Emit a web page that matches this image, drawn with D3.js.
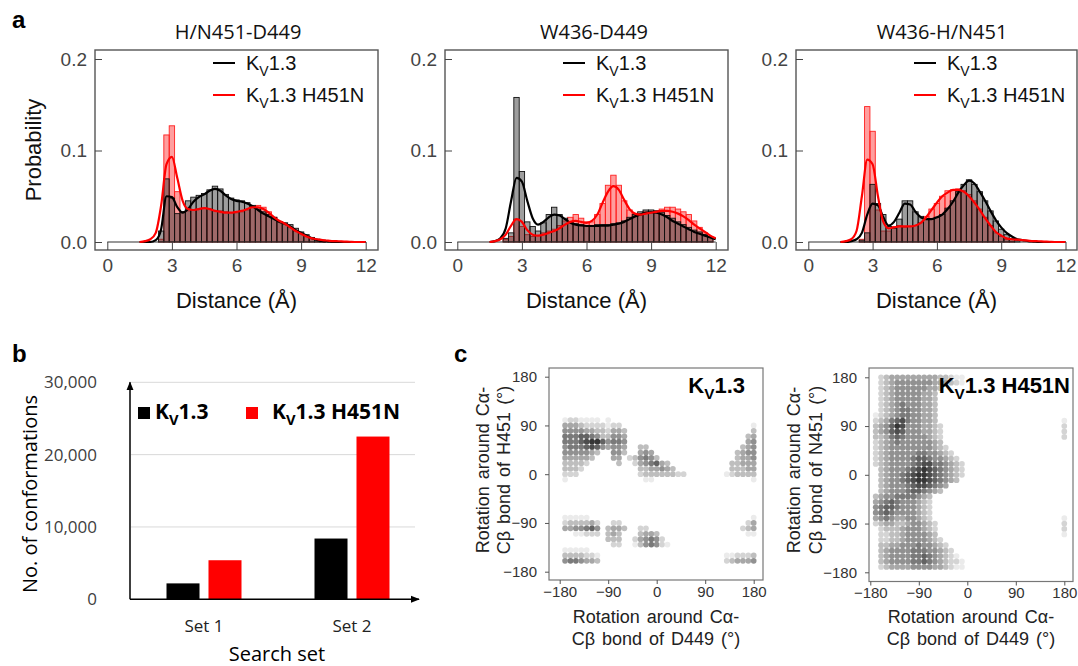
<!DOCTYPE html>
<html lang="en">
<head>
<meta charset="UTF-8">
<title>Kv1.3 H451N distances and rotamers</title>
<style>
body { margin: 0; background: #fff; }
svg { display: block; font-family: "Liberation Sans", Arial, sans-serif; }
.title { font-family: "Open Sans", sans-serif; font-size: 20px; fill: #111; }
.axlab { font-size: 22px; fill: #111; }
.tickA text { font-size: 19px; fill: #444; font-family: "Liberation Sans", Arial, sans-serif; }
.tickA line { stroke: #444; }
.tickC text { font-size: 15px; fill: #333; font-family: "Liberation Sans Narrow", "Liberation Sans", Arial, sans-serif; font-stretch: condensed; }
.tickC line { stroke: #555; }
.tickB text { font-size: 17px; fill: #404040; font-family: "Open Sans", sans-serif; }
.cal { font-family: "Open Sans", sans-serif; }
.panel { font-size: 24px; font-weight: bold; }
</style>
</head>
<body>
<svg id="fig" width="1078" height="666"></svg>
<script src="https://cdnjs.cloudflare.com/ajax/libs/d3/7.8.5/d3.min.js"></script>
<script>

// ---------- panel a : distance histograms ----------
var pairTitles = ["H/N451-D449", "W436-D449", "W436-H/N451"];
var distTicks = [0, 3, 6, 9, 12];
var probTicks = [0, 0.1, 0.2];
var binWidth = 0.25;

var binCenters = [2.25, 2.5, 2.75, 3, 3.25, 3.5, 3.75, 4, 4.25, 4.5,
                  4.75, 5, 5.25, 5.5, 5.75, 6, 6.25, 6.5, 6.75, 7,
                  7.25, 7.5, 7.75, 8, 8.25, 8.5, 8.75, 9, 9.25, 9.5,
                  9.75, 10, 10.25, 10.5, 10.75, 11, 11.25, 11.5, 11.75];

var histWt1  = [0, 0.012, 0.069, 0.048, 0.031, 0.033, 0.045, 0.049, 0.051, 0.053,
                0.057, 0.061, 0.058, 0.052, 0.048, 0.046, 0.045, 0.043, 0.040, 0.036,
                0.033, 0.030, 0.027, 0.022, 0.021, 0.019, 0.015, 0.011, 0.008, 0.005,
                0.003, 0.002, 0, 0, 0, 0, 0, 0, 0];
var histMut1 = [0, 0.003, 0.117, 0.127, 0.055, 0.033, 0.034, 0.035, 0.036, 0.037,
                0.036, 0.034, 0.034, 0.033, 0.032, 0.032, 0.033, 0.035, 0.039, 0.040,
                0.038, 0.033, 0.027, 0.022, 0.019, 0.016, 0.012, 0.009, 0.006, 0.004,
                0.003, 0.002, 0, 0, 0, 0, 0, 0, 0];
var histWt2  = [0.004, 0.010, 0.158, 0.077, 0.022, 0.017, 0.012, 0.021, 0.030, 0.038,
                0.030, 0.026, 0.022, 0.020, 0.019, 0.018, 0.018, 0.019, 0.019, 0.019,
                0.020, 0.021, 0.023, 0.027, 0.030, 0.033, 0.035, 0.035, 0.034, 0.032,
                0.029, 0.026, 0.022, 0.019, 0.016, 0.013, 0.011, 0.008, 0.005];
var histMut2 = [0.003, 0.006, 0.025, 0.017, 0.008, 0.006, 0.007, 0.010, 0.012, 0.014,
                0.018, 0.023, 0.027, 0.030, 0.026, 0.022, 0.022, 0.030, 0.042, 0.062,
                0.073, 0.062, 0.045, 0.035, 0.031, 0.031, 0.033, 0.033, 0.034, 0.036,
                0.038, 0.038, 0.036, 0.033, 0.030, 0.023, 0.016, 0.010, 0.006];
var histWt3  = [0, 0.002, 0.010, 0.063, 0.042, 0.030, 0.017, 0.015, 0.025, 0.045,
                0.045, 0.033, 0.028, 0.025, 0.025, 0.027, 0.030, 0.037, 0.045, 0.055,
                0.063, 0.068, 0.063, 0.055, 0.045, 0.034, 0.023, 0.014, 0.008, 0.004,
                0.002, 0, 0, 0, 0, 0, 0, 0, 0];
var histMut3 = [0, 0.003, 0.148, 0.121, 0.035, 0.012, 0.012, 0.017, 0.018, 0.016,
                0.017, 0.018, 0.021, 0.028, 0.036, 0.042, 0.050, 0.056, 0.057, 0.058,
                0.056, 0.052, 0.045, 0.036, 0.027, 0.018, 0.010, 0.006, 0.003, 0.001,
                0, 0, 0, 0, 0, 0, 0, 0, 0];

var curveX = [1.5, 1.75, 2, 2.25, 2.5, 2.75, 3, 3.25, 3.5, 3.75,
              4, 4.25, 4.5, 4.75, 5, 5.25, 5.5, 5.75, 6, 6.25,
              6.5, 6.75, 7, 7.25, 7.5, 7.75, 8, 8.25, 8.5, 8.75,
              9, 9.25, 9.5, 9.75, 10, 10.25, 10.5, 10.75, 11, 11.25,
              11.5, 11.75, 12];

var kdeWt1  = [0, 0, 0, 0.002, 0.014, 0.050, 0.049, 0.038, 0.032, 0.036,
               0.044, 0.049, 0.052, 0.056, 0.058, 0.056, 0.051, 0.047, 0.045, 0.044,
               0.042, 0.039, 0.035, 0.031, 0.028, 0.025, 0.022, 0.020, 0.017, 0.013,
               0.010, 0.007, 0.004, 0.002, 0.001, 0.0005, 0, 0, 0, 0,
               0, 0, 0];
var kdeMut1 = [0, 0.001, 0.003, 0.010, 0.040, 0.085, 0.093, 0.070, 0.045, 0.036,
               0.035, 0.036, 0.037, 0.036, 0.034, 0.033, 0.032, 0.032, 0.033, 0.034,
               0.036, 0.038, 0.038, 0.036, 0.032, 0.027, 0.023, 0.020, 0.016, 0.012,
               0.009, 0.006, 0.004, 0.003, 0.002, 0.0015, 0.001, 0.0008, 0.0005, 0.0003,
               0, 0, 0];
var kdeWt2  = [0, 0.001, 0.004, 0.015, 0.045, 0.070, 0.066, 0.045, 0.026, 0.019,
               0.022, 0.027, 0.030, 0.029, 0.025, 0.021, 0.019, 0.018, 0.0175, 0.0175,
               0.0175, 0.018, 0.018, 0.019, 0.020, 0.022, 0.025, 0.028, 0.030, 0.032,
               0.0325, 0.032, 0.030, 0.027, 0.023, 0.020, 0.017, 0.014, 0.011, 0.009,
               0.007, 0.005, 0.003];
var kdeMut2 = [0, 0.001, 0.003, 0.008, 0.018, 0.025, 0.022, 0.013, 0.008, 0.007,
               0.008, 0.010, 0.012, 0.015, 0.019, 0.022, 0.023, 0.022, 0.021, 0.023,
               0.030, 0.043, 0.055, 0.061, 0.057, 0.046, 0.036, 0.031, 0.030, 0.031,
               0.032, 0.033, 0.034, 0.034, 0.033, 0.031, 0.028, 0.024, 0.019, 0.015,
               0.011, 0.007, 0.004];
var kdeWt3  = [0, 0, 0.001, 0.003, 0.010, 0.030, 0.042, 0.040, 0.027, 0.018,
               0.022, 0.032, 0.042, 0.041, 0.033, 0.027, 0.025, 0.025, 0.027, 0.030,
               0.036, 0.044, 0.054, 0.062, 0.067, 0.064, 0.055, 0.045, 0.034, 0.024,
               0.016, 0.010, 0.006, 0.003, 0.002, 0.001, 0.0005, 0, 0, 0,
               0, 0, 0];
var kdeMut3 = [0, 0.001, 0.003, 0.012, 0.050, 0.090, 0.085, 0.050, 0.022, 0.015,
               0.016, 0.017, 0.017, 0.017, 0.018, 0.021, 0.027, 0.035, 0.043, 0.050,
               0.054, 0.057, 0.057, 0.055, 0.050, 0.043, 0.035, 0.026, 0.018, 0.011,
               0.007, 0.004, 0.003, 0.0025, 0.002, 0.0015, 0.001, 0.0008, 0.0005, 0.0003,
               0, 0, 0];

// ---------- panel b : conformations ----------
var searchSets = ["Set 1", "Set 2"];
var confWt  = [2200, 8400];
var confMut = [5400, 22500];
var confTicks = [0, 10000, 20000, 30000];

// ---------- panel c : rotamer maps (levels 1-9, "." = none) ----------
var angleTicks = [-180, -90, 0, 90, 180];
var rotSteps = [-170, -160, -150, -140, -130, -120, -110, -100, -90, -80, -70, -60,
                -50, -40, -30, -20, -10, 0, 10, 20, 30, 40, 50, 60,
                70, 80, 90, 100, 110, 120, 130, 140, 150, 160, 170, 180];
// rows from +180 (top) down to -170
var rotRows = [180, 170, 160, 150, 140, 130, 120, 110, 100, 90, 80, 70,
               60, 50, 40, 30, 20, 10, 0, -10, -20, -30, -40, -50,
               -60, -70, -80, -90, -100, -110, -120, -130, -140, -150, -160, -170];

var densityWt = [
  "....................................",
  "....................................",
  "....................................",
  "....................................",
  "....................................",
  "....................................",
  "....................................",
  "....................................",
  "1221111.1...........................",
  "44432222122........................1",
  "555544332443.......................3",
  "666776533554......................34",
  "666789975665......................45",
  "566678754554..33.................345",
  "5555543..553..454...............3455",
  "444443...44.235653..............3445",
  "33332.....3..2456743...........33444",
  "3332..........3344543..........33344",
  "222...........233333322.......123333",
  "1..............11..................1",
  "....................................",
  "....................................",
  "....................................",
  "....................................",
  "....................................",
  "....................................",
  "11111..............................1",
  "2333342..22.......................24",
  "4455675.3443..22.................234",
  "..11222.343...3443................11",
  "........333..245652.................",
  ".........22..1356521................",
  "11111...............................",
  "3333221.......................112223",
  "5665443.......................234445",
  "...................................."
];

var densityMut = [
  ".2344444444433211...................",
  ".2345555555444321...................",
  ".234555555443.......................",
  ".23455555443........................",
  ".23455555443........................",
  ".23456555443........................",
  ".23456655443........................",
  "123456655443........................",
  "234678655443.......................1",
  "3457985554432......................2",
  "3457875554432......................2",
  "3346765555432......................2",
  "2345655555543.......................",
  "23455555555432......................",
  "234555556655432.....................",
  "2345555677655432....................",
  "23455556788665432...................",
  ".3455567898765432...................",
  ".3455678998765432...................",
  ".345567899876543....................",
  ".3455567887654......................",
  ".345556776543.......................",
  "34556666543.........................",
  "45676555432.........................",
  "56776555432.........................",
  "56765555432.........................",
  "45654455432........................1",
  "234433455432.......................2",
  ".23334555432.......................2",
  ".22334555543.......................1",
  ".223345555432.......................",
  ".3344555655432......................",
  ".34555566655432.....................",
  ".345555667654321....................",
  ".3455556676543221...................",
  ".2344445555443211..................."
];

var svg = d3.select("#fig");

function kvLabel(sel, rest, size) {
  sel.append("tspan").text("K");
  sel.append("tspan").attr("font-size", size * 0.7).attr("dy", size * 0.28).text("V");
  sel.append("tspan").attr("dy", -size * 0.28).text("1.3" + rest);
}

// ================= panel a =================
var histPanels = [
  { left: 95,  right: 378,  x0: 107.3, x12: 365.7, titleX: 238, wt: histWt1, mut: histMut1, kWt: kdeWt1, kMut: kdeMut1 },
  { left: 445, right: 728,  x0: 457.3, x12: 715.7, titleX: 594, wt: histWt2, mut: histMut2, kWt: kdeWt2, kMut: kdeMut2 },
  { left: 796, right: 1077, x0: 808.3, x12: 1065.5, titleX: 942, wt: histWt3, mut: histMut3, kWt: kdeWt3, kMut: kdeMut3 }
];

histPanels.forEach(function(p, i) {
  var x = d3.scaleLinear().domain([0, 12]).range([p.x0, p.x12]);
  var y = d3.scaleLinear().domain([0, 0.2]).range([242, 59]);
  var g = svg.append("g");
  var bw = x(binWidth) - x(0);

  var mutBars = binCenters.map(function(c, k) { return { c: c, v: p.mut[k] }; }).filter(function(d) { return d.v > 0; });
  var wtBars = binCenters.map(function(c, k) { return { c: c, v: p.wt[k] }; }).filter(function(d) { return d.v > 0; });

  g.selectAll(".mutbar").data(mutBars).enter().append("rect")
    .attr("x", function(d) { return x(d.c - binWidth / 2); })
    .attr("width", bw)
    .attr("y", function(d) { return y(d.v); })
    .attr("height", function(d) { return y(0) - y(d.v); })
    .attr("fill", "rgba(255,0,0,0.38)")
    .attr("stroke", "#ff2020").attr("stroke-width", 0.9);

  g.selectAll(".wtbar").data(wtBars).enter().append("rect")
    .attr("x", function(d) { return x(d.c - binWidth / 2); })
    .attr("width", bw)
    .attr("y", function(d) { return y(d.v); })
    .attr("height", function(d) { return y(0) - y(d.v); })
    .attr("fill", "rgba(40,40,40,0.45)")
    .attr("stroke", "#111").attr("stroke-width", 0.9);

  // zero line spanning the distance range
  g.append("line").attr("x1", x(0)).attr("x2", x(12)).attr("y1", y(0)).attr("y2", y(0))
    .attr("stroke", "#333").attr("stroke-width", 1.2);

  var line = d3.line()
    .x(function(d) { return x(d[0]); })
    .y(function(d) { return y(d[1]); })
    .curve(d3.curveMonotoneX);

  g.append("path").datum(curveX.map(function(cx, k) { return [cx, p.kWt[k]]; }))
    .attr("d", line).attr("fill", "none").attr("stroke", "#000").attr("stroke-width", 2.2);
  g.append("path").datum(curveX.map(function(cx, k) { return [cx, p.kMut[k]]; }))
    .attr("d", line).attr("fill", "none").attr("stroke", "#ff0000").attr("stroke-width", 2.2);

  g.append("rect").attr("x", p.left).attr("y", 50).attr("width", p.right - p.left).attr("height", 200)
    .attr("fill", "none").attr("stroke", "#555").attr("stroke-width", 1.4);

  var xAxis = d3.axisBottom(x).tickValues(distTicks).tickSizeInner(-8).tickSizeOuter(0).tickPadding(9);
  g.append("g").attr("class", "tickA").attr("transform", "translate(0,250)").call(xAxis)
    .call(function(s) { s.select(".domain").remove(); });

  var yAxis = d3.axisLeft(y).tickValues(probTicks).tickSizeInner(-7).tickSizeOuter(0).tickPadding(8)
    .tickFormat(d3.format(".1f"));
  g.append("g").attr("class", "tickA").attr("transform", "translate(" + p.left + ",0)").call(yAxis)
    .call(function(s) { s.select(".domain").remove(); });

  g.append("text").attr("class", "title").attr("x", p.titleX).attr("y", 39)
    .attr("text-anchor", "middle").text(pairTitles[i]);

  g.append("text").attr("class", "axlab").attr("x", (p.left + p.right) / 2).attr("y", 308)
    .attr("text-anchor", "middle").text("Distance (Å)");

  // legend
  var lx = p.left + 118;
  g.append("line").attr("x1", lx).attr("x2", lx + 22).attr("y1", 63).attr("y2", 63)
    .attr("stroke", "#000").attr("stroke-width", 2);
  g.append("line").attr("x1", lx).attr("x2", lx + 22).attr("y1", 95).attr("y2", 95)
    .attr("stroke", "#ff0000").attr("stroke-width", 2);
  g.append("text").attr("x", lx + 33).attr("y", 70).attr("font-size", 20).attr("fill", "#111")
    .call(kvLabel, "", 20);
  g.append("text").attr("x", lx + 33).attr("y", 102).attr("font-size", 20).attr("fill", "#111")
    .call(kvLabel, " H451N", 20);
});

svg.append("text").attr("class", "axlab").attr("transform", "translate(41,150) rotate(-90)")
  .attr("text-anchor", "middle").text("Probability");

// ================= panel b =================
var bx = d3.scaleBand().domain(searchSets).range([130, 426]);
var bInner = d3.scaleBand().domain(["wt", "mut"]).range([bx.bandwidth() / 2 - 37.5, bx.bandwidth() / 2 + 37.5]).paddingInner(0.214);
var by = d3.scaleLinear().domain([0, 30000]).range([599.3, 382.3]);

var gb = svg.append("g");
gb.selectAll(".grid").data(confTicks.slice(1)).enter().append("line")
  .attr("x1", 131).attr("x2", 415)
  .attr("y1", function(d) { return by(d); }).attr("y2", function(d) { return by(d); })
  .attr("stroke", "#d9d9d9").attr("stroke-width", 1);

var bData = [];
searchSets.forEach(function(s, k) {
  bData.push({ set: s, key: "wt", v: confWt[k] });
  bData.push({ set: s, key: "mut", v: confMut[k] });
});
gb.selectAll(".cbar").data(bData).enter().append("rect")
  .attr("x", function(d) { return bx(d.set) + bInner(d.key); })
  .attr("width", bInner.bandwidth())
  .attr("y", function(d) { return by(d.v); })
  .attr("height", function(d) { return by(0) - by(d.v); })
  .attr("fill", function(d) { return d.key === "wt" ? "#000" : "#ff0000"; });

gb.append("defs").append("marker").attr("id", "arr").attr("viewBox", "0 0 10 10")
  .attr("refX", 9).attr("refY", 5).attr("markerUnits", "userSpaceOnUse")
  .attr("markerWidth", 9).attr("markerHeight", 9).attr("orient", "auto")
  .append("path").attr("d", "M0,1 L10,5 L0,9 Z").attr("fill", "#000");

gb.append("line").attr("x1", 130).attr("x2", 130).attr("y1", by(0)).attr("y2", by(30000))
  .attr("stroke", "#000").attr("stroke-width", 1.5).attr("marker-end", "url(#arr)");
gb.append("line").attr("x1", 130).attr("x2", 419).attr("y1", by(0)).attr("y2", by(0))
  .attr("stroke", "#000").attr("stroke-width", 1.5).attr("marker-end", "url(#arr)");

gb.append("g").attr("class", "tickB").attr("transform", "translate(130,0)")
  .call(d3.axisLeft(by).tickValues(confTicks).tickSize(0).tickPadding(33).tickFormat(d3.format(",")))
  .call(function(s) { s.select(".domain").remove(); });

gb.append("g").attr("class", "tickB").attr("transform", "translate(0," + by(0) + ")")
  .call(d3.axisBottom(bx).tickSize(0).tickPadding(21))
  .call(function(s) { s.select(".domain").remove(); s.selectAll("text").style("font-size", "17px").style("fill", "#222"); });

gb.append("text").attr("class", "cal").attr("font-size", 20).attr("text-anchor", "middle")
  .attr("transform", "translate(37,494) rotate(-90)").text("No. of conformations");
gb.append("text").attr("class", "cal").attr("font-size", 20).attr("text-anchor", "middle")
  .attr("x", 277).attr("y", 661).text("Search set");

gb.append("rect").attr("x", 138).attr("y", 407).attr("width", 12).attr("height", 12).attr("fill", "#000");
gb.append("rect").attr("x", 246).attr("y", 407).attr("width", 12).attr("height", 12).attr("fill", "#ff0000");
gb.append("text").attr("class", "cal").attr("x", 155).attr("y", 419).attr("font-size", 21)
  .attr("font-weight", "bold").call(kvLabel, "", 21);
gb.append("text").attr("class", "cal").attr("x", 272).attr("y", 419).attr("font-size", 21)
  .attr("font-weight", "bold").call(kvLabel, " H451N", 21);

// ================= panel c =================
var level = d3.scaleLinear().domain([1, 9]).range(["#ebebeb", "#363636"]);

var rotPanels = [
  { left: 549, right: 763,  top: 368, bottom: 580, xr: [559.7, 753.7], yr: [571.7, 376.7],
    grid: densityWt, res: "H451", tag: "", tagX: 745, yl1: 489, yl2: 509.5 },
  { left: 869, right: 1073, top: 368, bottom: 581.5, xr: [870.3, 1064.3], yr: [572.3, 377.3],
    grid: densityMut, res: "N451", tag: " H451N", tagX: 1070, yl1: 800, yl2: 822 }
];

rotPanels.forEach(function(p) {
  var x = d3.scaleLinear().domain([-180, 180]).range(p.xr);
  var y = d3.scaleLinear().domain([-180, 180]).range(p.yr);
  var g = svg.append("g");

  var dots = [];
  p.grid.forEach(function(row, i) {
    row.padEnd(rotSteps.length, ".").split("").slice(0, rotSteps.length).forEach(function(ch, j) {
      if (ch !== ".") dots.push({ a: rotSteps[j], b: rotRows[i], v: +ch });
    });
  });

  g.selectAll(".dot").data(dots).enter().append("circle")
    .attr("cx", function(d) { return x(d.a); })
    .attr("cy", function(d) { return y(d.b); })
    .attr("r", 2.85)
    .attr("fill", function(d) { return level(d.v); });

  g.append("rect").attr("x", p.left).attr("y", p.top).attr("width", p.right - p.left)
    .attr("height", p.bottom - p.top).attr("fill", "none").attr("stroke", "#777").attr("stroke-width", 1.2);

  g.append("g").attr("class", "tickC").attr("transform", "translate(0," + p.bottom + ")")
    .call(d3.axisBottom(x).tickValues(angleTicks).tickSizeInner(4).tickSizeOuter(0).tickPadding(2))
    .call(function(s) { s.select(".domain").remove(); });
  g.append("g").attr("class", "tickC").attr("transform", "translate(" + p.left + ",0)")
    .call(d3.axisLeft(y).tickValues(angleTicks).tickSizeInner(4).tickSizeOuter(0).tickPadding(8))
    .call(function(s) { s.select(".domain").remove(); });

  var cx = (p.left + p.right) / 2;
  g.append("text").attr("x", cx).attr("y", 623).attr("text-anchor", "middle")
    .attr("font-size", 18).attr("word-spacing", 2).attr("fill", "#222").text("Rotation around Cα-");
  g.append("text").attr("x", cx).attr("y", 645).attr("text-anchor", "middle")
    .attr("font-size", 18).attr("word-spacing", 2).attr("fill", "#222").text("Cβ bond of D449 (°)");

  g.append("text").attr("transform", "translate(" + p.yl1 + ",470) rotate(-90)").attr("text-anchor", "middle")
    .attr("font-size", 18).attr("word-spacing", 2).attr("fill", "#222").text("Rotation around Cα-");
  g.append("text").attr("transform", "translate(" + p.yl2 + ",470) rotate(-90)").attr("text-anchor", "middle")
    .attr("font-size", 18).attr("word-spacing", 2).attr("fill", "#222").text("Cβ bond of " + p.res + " (°)");

  g.append("text").attr("x", p.tagX).attr("y", 393).attr("text-anchor", "end")
    .attr("font-size", 22).attr("font-weight", "bold").attr("fill", "#000")
    .call(kvLabel, p.tag, 22);
});

// panel letters
svg.append("text").attr("class", "panel").attr("x", 12).attr("y", 28).text("a");
svg.append("text").attr("class", "panel").attr("x", 12).attr("y", 362).text("b");
svg.append("text").attr("class", "panel").attr("x", 454).attr("y", 362).text("c");

</script>
</body>
</html>
